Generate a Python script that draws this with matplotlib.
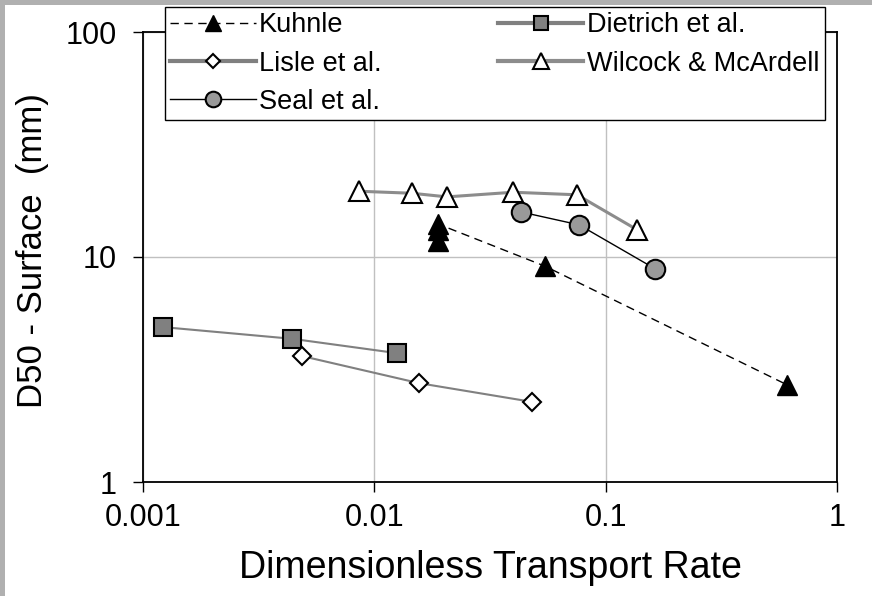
import matplotlib
matplotlib.use("Agg")
import matplotlib.pyplot as plt
from matplotlib.patches import Rectangle

plt.rcParams['font.family'] = ['Liberation Sans', 'DejaVu Sans']

# Kuhnle (dashed, filled triangles)
kuhnle_x = [0.0189, 0.0189, 0.0189, 0.0547, 0.61]
kuhnle_y = [11.8, 13.2, 14.0, 9.1, 2.7]

# Dietrich et al. (gray squares)
dietrich_x = [0.00122, 0.00441, 0.0125]
dietrich_y = [4.88, 4.33, 3.74]

# Lisle et al. (open diamonds)
lisle_x = [0.00486, 0.0156, 0.0481]
lisle_y = [3.63, 2.75, 2.27]

# Wilcock & McArdell (open triangles)
wilcock_x = [0.00859, 0.01455, 0.0206, 0.0398, 0.0752, 0.137]
wilcock_y = [19.6, 19.2, 18.5, 19.4, 18.9, 13.2]

# Seal et al. (gray circles)
seal_x = [0.0431, 0.0767, 0.164]
seal_y = [15.85, 13.9, 8.85]

xticks = [0.001, 0.01, 0.1, 1]
xtick_labels = ["0.001", "0.01", "0.1", "1"]
yticks = [1, 10, 100]
ytick_labels = ["1", "10", "100"]

fig = plt.figure(figsize=(8.72, 5.96), dpi=100)
fig.patch.set_facecolor("white")

# gray window frame along the top and left edges
fig.patches.append(Rectangle((0, 1 - 5 / 596), 1, 5 / 596, transform=fig.transFigure,
                             facecolor="#b0b0b0", edgecolor="none", zorder=0))
fig.patches.append(Rectangle((0, 0), 5 / 872, 1, transform=fig.transFigure,
                             facecolor="#b0b0b0", edgecolor="none", zorder=0))

ax = fig.add_axes([143 / 872, (596 - 482) / 596, (837 - 143) / 872, (482 - 32) / 596])
ax.set_xscale("log")
ax.set_yscale("log")
ax.set_xlim(0.001, 1)
ax.set_ylim(1, 100)

ax.grid(True, which="major", color="#c0c0c0", linewidth=1.0)
ax.set_axisbelow(True)
ax.minorticks_off()
ax.set_xticks(xticks)
ax.set_xticklabels(xtick_labels)
ax.set_yticks(yticks)
ax.set_yticklabels(ytick_labels)
ax.tick_params(axis="both", which="major", direction="out", length=7, width=1,
               labelsize=22, colors="black")
ax.tick_params(axis="y", pad=12)
ax.tick_params(axis="x", pad=8)
for s in ax.spines.values():
    s.set_linewidth(1.3)
    s.set_color("black")

h_k, = ax.plot(kuhnle_x, kuhnle_y, linestyle=(0, (6, 4)), color="black", linewidth=1,
               marker="^", markersize=15, markerfacecolor="black",
               markeredgecolor="black", label="Kuhnle", zorder=3)
h_d, = ax.plot(dietrich_x, dietrich_y, color="#808080", linewidth=1.5,
               marker="s", markersize=13, markerfacecolor="#808080",
               markeredgecolor="black", markeredgewidth=1.5,
               label="Dietrich et al.", zorder=3)
h_l, = ax.plot(lisle_x, lisle_y, color="#808080", linewidth=1.5,
               marker="D", markersize=9, markerfacecolor="white",
               markeredgecolor="black", markeredgewidth=1.5,
               label="Lisle et al.", zorder=4)
h_w, = ax.plot(wilcock_x, wilcock_y, color="#8c8c8c", linewidth=2.2,
               marker="^", markersize=15, markerfacecolor="white",
               markeredgecolor="black", markeredgewidth=1.5,
               label="Wilcock & McArdell", zorder=3)
h_s, = ax.plot(seal_x, seal_y, color="black", linewidth=1,
               marker="o", markersize=14, markerfacecolor="#999999",
               markeredgecolor="black", markeredgewidth=1.5,
               label="Seal et al.", zorder=4)

ax.set_xlabel("Dimensionless Transport Rate", fontsize=27, labelpad=12)
ax.set_ylabel("D50 - Surface  (mm)", fontsize=25)
ax.yaxis.set_label_coords(-0.135, 0.515)

handles = [h_k, h_l, h_s, h_d, h_w]
leg = fig.legend(handles, [h.get_label() for h in handles], ncol=2,
                 loc="upper left", bbox_to_anchor=(165 / 872, 1 - 7 / 596),
                 fontsize=19.5, frameon=True, fancybox=False, framealpha=1,
                 edgecolor="black", handlelength=3.15, handletextpad=0.12,
                 columnspacing=4.3, borderpad=0.2, labelspacing=0.45,
                 numpoints=1, borderaxespad=0)
leg.get_frame().set_linewidth(1.0)
for lh in leg.legend_handles:
    lh.set_markersize(lh.get_markersize() * 0.8)
    if lh.get_color() != "black":
        lh.set_linewidth(3)

fig.savefig("out.png", dpi=100)
